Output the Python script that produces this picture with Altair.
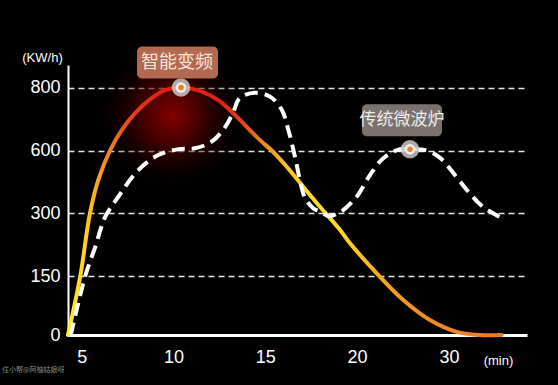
import altair as alt
import pandas as pd

# ---- data ----
y_ticks = [0, 150, 300, 600, 800]
x_ticks = [5, 10, 15, 20, 30]

smart_min = [4.25, 4.92, 5.45, 5.90, 6.54, 7.18, 7.90, 8.81, 9.54, 10.41, 11.54, 12.44,
             13.17, 13.62, 14.71, 15.35, 16.17, 17.07, 17.98, 19.07, 19.62, 22.5, 25.03,
             27.93, 30.83, 33.37, 35.73]
smart_kw = [0, 150, 300, 458, 600, 665, 718, 766, 792, 800, 787, 760,
            723, 697, 633, 600, 522, 426, 330, 260, 228, 148, 89,
            38, 8, 0, 0]

micro_min = [4.4, 5.19, 5.74, 6.27, 6.99, 8.08, 9.17, 10.26, 11.17, 12.08, 12.81,
             13.26, 13.62, 14.44, 15.26, 15.9, 16.26, 16.62, 16.89, 17.17, 17.62,
             18.0, 18.5, 18.9, 19.25, 19.98, 21.41, 22.86, 24.67, 25.76, 27.57,
             29.0, 30.8, 32.25, 33.7, 35.5]
micro_kw = [0, 150, 220, 290, 378, 506, 578, 604, 607, 628, 674,
            723, 767, 783, 771, 729, 665, 570, 458, 371, 323,
            305, 292, 298, 314, 378, 482, 563, 604, 604, 600,
            566, 474, 395, 330, 291]

ann_names = ["智能变频", "传统微波炉"]
ann_min = [10.41, 25.76]
ann_kw = [800, 604]
ann_box = ["#b2694f", "#7b716d"]
ann_text = ["#f6e6de", "#ececec"]

glow_min = [9.9]
glow_kw = [712]

# ---- tables ----
smart = pd.DataFrame({"m": smart_min, "kw": smart_kw})
micro = pd.DataFrame({"m": micro_min, "kw": micro_kw})
ann = pd.DataFrame({"name": ann_names, "m": ann_min, "kw": ann_kw})
glow = pd.DataFrame({"m": glow_min, "kw": glow_kw})

W, H = 459, 270
xs = alt.Scale(domain=[4.25, 20, 30, 38.5], range=[0, 289, 381, 459], nice=False, zero=False)
ys = alt.Scale(domain=[0, 150, 300, 600, 800, 871], range=[270, 211, 148, 85.5, 22.5, 0],
               nice=False, zero=False)

xaxis = alt.Axis(values=x_ticks, grid=False, ticks=False, domainColor="white", domainWidth=3,
                 labelColor="white", labelFontSize=18, labelFont="Liberation Sans",
                 labelPadding=13, title="(min)", titleColor="white", titleFontSize=13,
                 titleFont="Liberation Sans", titleFontWeight="normal",
                 titleX=430, titleY=25, titleBaseline="middle", titleAlign="center")
yaxis = alt.Axis(values=y_ticks, grid=True, gridColor="white", gridDash=[6, 4], gridWidth=1.5,
                 gridOpacity=0.9, ticks=False, domainColor="white", domainWidth=2,
                 labelColor="white", labelFontSize=18, labelFont="Liberation Sans",
                 labelPadding=8, title="(KW/h)", titleColor="white", titleFontSize=13,
                 titleFont="Liberation Sans", titleFontWeight="normal", titleAngle=0,
                 titleX=-26, titleY=-8, titleBaseline="middle", titleAlign="center")

X = alt.X("m:Q", scale=xs, axis=xaxis)
Y = alt.Y("kw:Q", scale=ys, axis=yaxis)

glow_layer = alt.Chart(glow).mark_circle(
    size=24000, opacity=1,
    fill=alt.Gradient(gradient="radial", x1=0.5, y1=0.5, r1=0, x2=0.5, y2=0.5, r2=0.5,
                      stops=[alt.GradientStop(offset=0, color="rgba(140,0,0,0.95)"),
                             alt.GradientStop(offset=0.35, color="rgba(105,0,0,0.7)"),
                             alt.GradientStop(offset=0.7, color="rgba(50,0,0,0.3)"),
                             alt.GradientStop(offset=1, color="rgba(0,0,0,0)")])
).encode(x=X, y=Y)

smart_line = alt.Chart(smart).mark_line(
    interpolate="catmull-rom", strokeWidth=4, strokeCap="round",
    color=alt.Gradient(gradient="linear", x1=0, y1=0, x2=1, y2=0, stops=[
        alt.GradientStop(offset=0.0, color="#fff02a"),
        alt.GradientStop(offset=0.04, color="#ffd020"),
        alt.GradientStop(offset=0.072, color="#f8a020"),
        alt.GradientStop(offset=0.107, color="#f07020"),
        alt.GradientStop(offset=0.153, color="#e83a18"),
        alt.GradientStop(offset=0.21, color="#e02010"),
        alt.GradientStop(offset=0.35, color="#e02010"),
        alt.GradientStop(offset=0.41, color="#e84a18"),
        alt.GradientStop(offset=0.45, color="#f08a20"),
        alt.GradientStop(offset=0.51, color="#fcc820"),
        alt.GradientStop(offset=0.58, color="#ffe020"),
        alt.GradientStop(offset=0.65, color="#fcd020"),
        alt.GradientStop(offset=0.74, color="#f6a020"),
        alt.GradientStop(offset=0.835, color="#f08828"),
        alt.GradientStop(offset=1.0, color="#ee7a28"),
    ])
).encode(x=X, y=Y, order="m:Q")

micro_line = alt.Chart(micro).mark_line(
    interpolate="catmull-rom", strokeWidth=4, color="white", strokeDash=[13, 7]
).encode(x=X, y=Y, order="m:Q")

m_outer = alt.Chart(ann).mark_circle(size=340, color="#cdc4c4", opacity=0.85).encode(x=X, y=Y)
m_inner = alt.Chart(ann).mark_circle(size=110, color="#f2eeee", opacity=1).encode(x=X, y=Y)
m_dot = alt.Chart(ann).mark_circle(size=30, color="#f07a1e", opacity=1).encode(x=X, y=Y)

box_layers = []
offsets = [(-44, 37, -41, -9, -4, -25, 18), (-48, 32, -45, -13, -8, -29, 17)]
for i, name in enumerate(ann_names):
    xo, x2o, yo, y2o, dx, dy, fs = offsets[i]
    base = alt.Chart(ann).transform_filter(alt.datum.name == name)
    box_layers.append(base.mark_rect(
        color=ann_box[i], cornerRadius=5, xOffset=xo, x2Offset=x2o, yOffset=yo, y2Offset=y2o
    ).encode(x=X, x2="m:Q", y=Y, y2="kw:Q"))
    box_layers.append(base.mark_text(
        color=ann_text[i], fontSize=fs, font="Noto Sans CJK SC", dx=dx, dy=dy,
        align="center", baseline="middle"
    ).encode(x=X, y=Y, text="name:N"))

watermark = alt.Chart(pd.DataFrame({"t": ["住小帮@阿柚姑娘呀"]})).mark_text(
    align="left", baseline="middle", fontSize=7, color="#8a8a8a", font="Noto Sans CJK SC"
).encode(x=alt.value(-66), y=alt.value(305), text="t:N")

chart = alt.layer(glow_layer, smart_line, micro_line, m_outer, m_inner, m_dot,
                  *box_layers, watermark).properties(
    width=W, height=H,
    autosize=alt.AutoSizeParams(type="none"),
    padding={"left": 68, "top": 65, "right": 31, "bottom": 50},
    background="black",
).configure_view(stroke=None)

chart.save("out.html", embed_options={"renderer": "svg", "actions": False})
